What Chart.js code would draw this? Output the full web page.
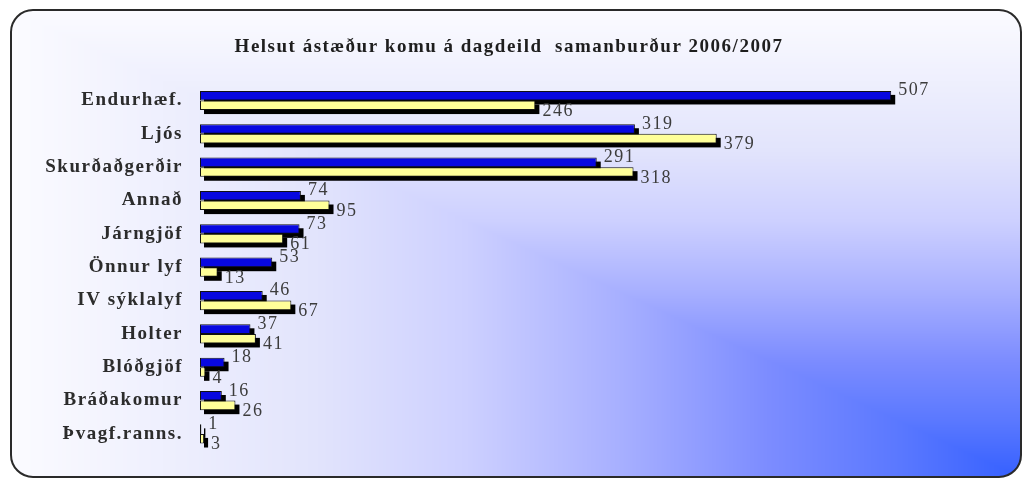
<!DOCTYPE html>
<html>
<head>
<meta charset="utf-8">
<script src="https://cdn.jsdelivr.net/npm/chart.js@4/dist/chart.umd.min.js"></script>
<style>
  html, body { margin: 0; padding: 0; background: #fff; }
  canvas { display: block; }
</style>
</head>
<body>
<canvas id="chartJS" width="1023" height="479"></canvas>
<script>
const categories = [
    'Endurhæf.', 'Ljós', 'Skurðaðgerðir', 'Annað', 'Járngjöf', 'Önnur lyf',
    'IV sýklalyf', 'Holter', 'Blóðgjöf', 'Bráðakomur', 'Þvagf.ranns.'
];
const values2006 = [507, 319, 291, 74, 73, 53, 46, 37, 18, 16, 1];
const values2007 = [246, 379, 318, 95, 61, 13, 67, 41, 4, 26, 3];
const chartTitle = 'Helsut ástæður komu á dagdeild  samanburður 2006/2007';

// frame box
const L = 11, T = 10, R = 1021, B = 477, RAD = 22;

// "from corner" gradient (bottom right = blue), built pixel by pixel
const gradStops = [
    [0, [53, 96, 255]], [0.12, [90, 120, 255]], [0.25, [124, 140, 255]],
    [0.4, [168, 176, 255]], [0.55, [205, 208, 255]], [0.7, [226, 228, 252]], [1, [251, 251, 255]]
];
function colorAt(t) {
    for (let k = 1; k < gradStops.length; k++) {
        if (t <= gradStops[k][0]) {
            const a = gradStops[k - 1], b = gradStops[k];
            const f = (t - a[0]) / (b[0] - a[0]);
            return [0, 1, 2].map(c => a[1][c] + (b[1][c] - a[1][c]) * f);
        }
    }
    return gradStops[gradStops.length - 1][1];
}
const bgCanvas = document.createElement('canvas');
bgCanvas.width = R - L;
bgCanvas.height = B - T;
(function () {
    const c = bgCanvas.getContext('2d');
    const w = bgCanvas.width, h = bgCanvas.height;
    const img = c.createImageData(w, h);
    for (let y = 0; y < h; y++) {
        for (let x = 0; x < w; x++) {
            const t = Math.min(1, Math.max((w - x) / w, (h - y) / h));
            const col = colorAt(t);
            const i = (y * w + x) * 4;
            img.data[i] = col[0];
            img.data[i + 1] = col[1];
            img.data[i + 2] = col[2];
            img.data[i + 3] = 255;
        }
    }
    c.putImageData(img, 0, 0);
})();

const frameBackground = {
    id: 'frameBackground',
    beforeDraw(chart) {
        const ctx = chart.ctx;
        ctx.save();
        ctx.fillStyle = '#fff';
        ctx.fillRect(0, 0, chart.width, chart.height);
        ctx.beginPath();
        ctx.roundRect(L, T, R - L, B - T, RAD);
        ctx.clip();
        ctx.drawImage(bgCanvas, L, T);
        ctx.restore();

        ctx.save();
        ctx.beginPath();
        ctx.roundRect(L, T, R - L, B - T, RAD);
        ctx.lineWidth = 2;
        ctx.strokeStyle = '#2a2a2a';
        ctx.stroke();
        ctx.restore();

        ctx.letterSpacing = '1.5px';
    }
};

// black drop shadow behind every bar
const barShadow = {
    id: 'barShadow',
    beforeDatasetsDraw(chart) {
        const ctx = chart.ctx;
        ctx.save();
        ctx.fillStyle = '#000';
        chart.data.datasets.forEach((ds, i) => {
            chart.getDatasetMeta(i).data.forEach(bar => {
                const p = bar.getProps(['x', 'y', 'base', 'height'], true);
                ctx.fillRect(p.base + 4, p.y - p.height / 2 + 4, p.x - p.base, p.height);
            });
        });
        ctx.restore();
    }
};

// value labels at bar ends
const valueLabels = {
    id: 'valueLabels',
    afterDatasetsDraw(chart) {
        const ctx = chart.ctx;
        ctx.save();
        ctx.font = '18px "Liberation Serif"';
        ctx.fillStyle = '#3c3c3c';
        ctx.textAlign = 'left';
        ctx.textBaseline = 'middle';
        chart.data.datasets.forEach((ds, i) => {
            chart.getDatasetMeta(i).data.forEach((bar, j) => {
                const p = bar.getProps(['x', 'y'], true);
                ctx.fillText(ds.data[j], p.x + 7, p.y + (i === 0 ? -5 : 6));
            });
        });
        ctx.restore();
    }
};

const data = {
    labels: categories,
    datasets: [{
        label: '2006',
        data: values2006,
        backgroundColor: '#0808e0',
        borderColor: '#111',
        borderWidth: 1,
        borderSkipped: false
    },
    {
        label: '2007',
        data: values2007,
        backgroundColor: '#ffff99',
        borderColor: '#111',
        borderWidth: 1,
        borderSkipped: false
    }]
};

const config = {
    type: 'bar',
    data: data,
    options: {
        indexAxis: 'y',
        responsive: false,
        animation: false,
        categoryPercentage: 0.575,
        barPercentage: 1,
        layout: { padding: { left: 0, right: 5, top: 0, bottom: 12 } },
        plugins: {
            legend: { display: false },
            tooltip: { enabled: false },
            title: {
                display: true,
                text: chartTitle,
                color: '#1e1e1e',
                font: { family: '"Liberation Serif"', size: 19, weight: 'bold' },
                padding: { top: 36, bottom: 25 }
            }
        },
        scales: {
            x: {
                display: false,
                min: 0,
                max: 600
            },
            y: {
                grid: { display: false, drawTicks: false },
                border: { display: false },
                ticks: {
                    padding: 17,
                    color: '#2c2c2c',
                    font: { family: '"Liberation Serif"', size: 19, weight: 'bold' }
                },
                afterFit(scale) { scale.width = 200; }
            }
        }
    },
    plugins: [frameBackground, barShadow, valueLabels]
};

const myChart = new Chart(
    document.getElementById('chartJS'),
    config
);
</script>
</body>
</html>
